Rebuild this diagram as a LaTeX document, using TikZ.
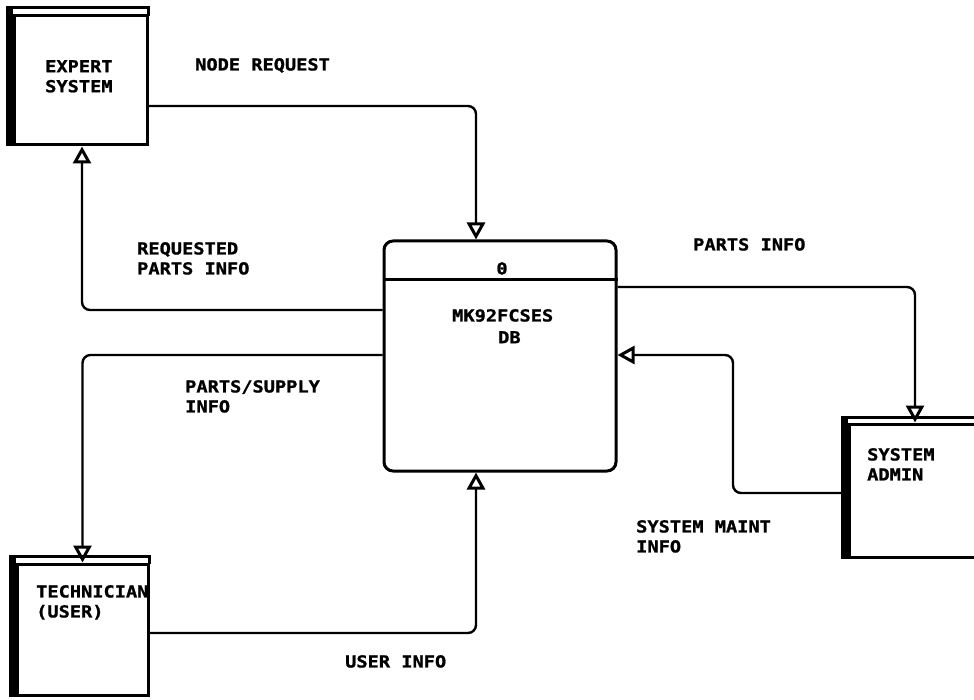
\documentclass[tikz,border=0pt]{standalone}
\usepackage{fontspec}
\usetikzlibrary{arrows.meta,calc}
\newfontfamily\dfont{DejaVu Sans Mono}[FakeStretch=1.13, FakeBold=1.2]
\tikzset{
  boxline/.style={line width=3pt, line cap=rect},
  entity/.style={draw, boxline, rectangle, inner sep=0pt},
  store/.style={draw, boxline, rectangle, rounded corners=9pt, inner sep=0pt},
  flow/.style={line width=2.4pt, rounded corners=8pt,
    -{Triangle[open, length=17pt, width=18pt, line width=3pt]}},
  lbl/.style={inner sep=0pt, anchor=north west, align=left,
    font=\dfont\bfseries\fontsize{16.5}{20}\selectfont},
}
\begin{document}
\begin{tikzpicture}[x=1pt, y=-1pt]
\useasboundingbox (0,0) rectangle (974,700);
\clip (0,0) rectangle (974,700);
\fill[white] (0,0) rectangle (974,700);

% external entities
\node[entity, minimum width=133pt, minimum height=129pt] (es) at (80.5,80.5) {};
\draw[boxline] ([yshift=7pt,xshift=-5pt]es.north west) -- ([yshift=7pt]es.north east) -- (es.north east);
\draw[line width=6.5pt] ([xshift=-3pt]es.south west) -- ([xshift=-3pt,yshift=8.5pt]es.north west);

\node[entity, minimum width=131pt, minimum height=131pt] (tech) at (82.5,629.5) {};
\draw[boxline] ([yshift=6pt,xshift=-5pt]tech.north west) -- ([yshift=6pt]tech.north east) -- (tech.north east);
\draw[line width=6.5pt] ([xshift=-3pt]tech.south west) -- ([xshift=-3pt,yshift=7.5pt]tech.north west);

\node[entity, minimum width=141pt, minimum height=133pt] (adm) at (919.5,490.5) {};
\draw[boxline] ([yshift=5pt,xshift=-5pt]adm.north west) -- ([yshift=5pt]adm.north east) -- (adm.north east);
\draw[line width=6.5pt] ([xshift=-3pt]adm.south west) -- ([xshift=-3pt,yshift=6.5pt]adm.north west);

% data store / process
\node[store, minimum width=232pt, minimum height=230pt] (db) at (500,356) {};
\draw[boxline, line cap=butt] ([yshift=-40pt]db.north west) -- ([yshift=-40pt]db.north east);

% entity texts
\node[lbl] (t1) at (45,60) {EXPERT\\SYSTEM};
\node[lbl] (t2) at (36,585) {TECHNICIAN\\(USER)};
\node[lbl] (t3) at (867,448) {SYSTEM\\ADMIN};
\node[lbl, anchor=north] (t4) at (502,262) {0};
\node[lbl] (t5) at (452,309) {MK92FCSES};
\node[lbl] (t6) at (498,331) {DB};

% connectors
\draw[flow] ([yshift=-25.5pt]es.east) -| ([xshift=-24pt]db.north);
\draw[flow] ([yshift=46pt]db.west) -| ([xshift=1.5pt]es.south);
\draw[flow] ([yshift=1pt]db.west) -| (tech.north);
\draw[flow] ([yshift=-3.5pt]tech.east) -| ([xshift=-24pt]db.south);
\draw[flow] ([yshift=69pt]db.east) -| ([xshift=-4.5pt]adm.north);
\coordinate (m) at (733,355);
\draw[flow] ([xshift=-5pt,yshift=-2.5pt]adm.west) -| (m) -- (db.east |- m);

% flow labels
\node[lbl] (l1) at (195,58) {NODE REQUEST};
\node[lbl] (l2) at (137,242) {REQUESTED\\PARTS INFO};
\node[lbl] (l3) at (693,238) {PARTS INFO};
\node[lbl] (l4) at (185,380) {PARTS/SUPPLY\\INFO};
\node[lbl] (l5) at (636,520) {SYSTEM MAINT\\INFO};
\node[lbl] (l6) at (345,655) {USER INFO};
\end{tikzpicture}
\end{document}
